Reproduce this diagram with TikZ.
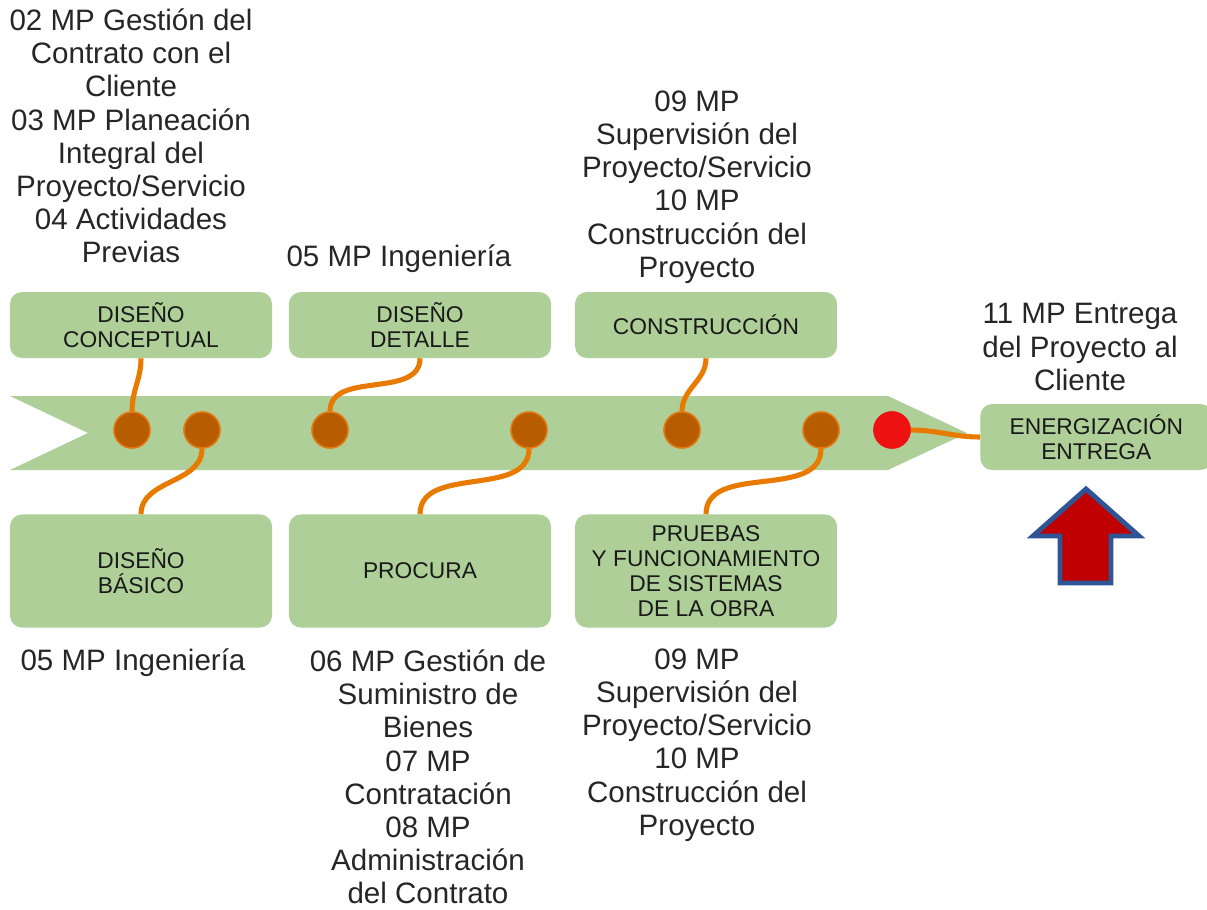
\documentclass[tikz,border=0pt]{standalone}
\usepackage{fontspec}
\setmainfont{Liberation Sans}
\definecolor{leaf}{RGB}{174,208,152}
\definecolor{wire}{RGB}{232,122,0}
\definecolor{knot}{RGB}{184,92,0}
\definecolor{knotrim}{RGB}{228,122,20}
\definecolor{hot}{RGB}{238,17,17}
\definecolor{arrowred}{RGB}{192,0,0}
\definecolor{arrowblue}{RGB}{47,85,151}
\begin{document}
\begin{tikzpicture}[x=0.025cm,y=0.025cm,
    box/.style={fill=leaf,rounded corners=0.3cm,minimum width=6.55cm,align=center,
      font=\fontsize{16.2}{17.8}\selectfont,text=black!90},
    knob/.style={circle,fill=knot,draw=knotrim,line width=1pt,minimum size=0.9cm,inner sep=0pt},
    link/.style={draw=wire,line width=3.6pt},
    lbl/.style={align=center,inner sep=0pt,font=\fontsize{21}{23.6}\selectfont,text=black!85}]
    \useasboundingbox (0,0) rectangle (1207,-909);
    % band
    \fill[leaf] (10,-396) -- (888,-396) -- (967,-433) -- (888,-470) -- (10,-470) -- (88,-433) -- cycle;
    % boxes
    \node[box,minimum height=1.65cm] (concept) at (141,-325) {DISEÑO\\CONCEPTUAL};
    \node[box,minimum height=1.65cm] (detail) at (420,-325) {DISEÑO\\DETALLE};
    \node[box,minimum height=1.65cm] (build) at (706,-325) {CONSTRUCCIÓN};
    \node[box,minimum height=2.825cm] (basic) at (141,-571) {DISEÑO\\BÁSICO};
    \node[box,minimum height=2.825cm] (buy) at (420,-571) {PROCURA};
    \node[box,minimum height=2.825cm] (test) at (706,-571) {PRUEBAS\\Y FUNCIONAMIENTO\\DE SISTEMAS\\DE LA OBRA};
    \node[box,minimum height=1.65cm,minimum width=5.8cm,anchor=west] (deliver) at (980,-437) {ENERGIZACIÓN\\ENTREGA};
    % knobs on the band
    \node[knob] (k1) at (132,-430) {};
    \node[knob] (k2) at (202,-430) {};
    \node[knob] (k3) at (330,-430) {};
    \node[knob] (k4) at (529,-430) {};
    \node[knob] (k5) at (682,-430) {};
    \node[knob] (k6) at (821,-430) {};
    \node[knob,fill=hot,draw=hot] (k7) at (892,-430) {};
    % wires
    \path[link] (k1.north) to[out=90,in=-90] (concept.south);
    \path[link] (k2.south) to[out=-90,in=90] (basic.north);
    \path[link] (k3.north) to[out=90,in=-90] (detail.south);
    \path[link] (k4.south) to[out=-90,in=90] (buy.north);
    \path[link] (k5.north) to[out=90,in=-90] (build.south);
    \path[link] (k6.south) to[out=-90,in=90] (test.north);
    \path[link] (k7.east) to[out=0,in=180] (deliver.west);
    % redraw knobs over the wires
    \node[knob] at (k1) {};
    \node[knob] at (k2) {};
    \node[knob] at (k3) {};
    \node[knob] at (k4) {};
    \node[knob] at (k5) {};
    \node[knob] at (k6) {};
    \node[knob,fill=hot,draw=hot] at (k7) {};
    % labels
    \node[lbl] (pre) at (131,-136) {02 MP Gestión del\\Contrato con el\\Cliente\\03 MP Planeación\\Integral del\\Proyecto/Servicio\\04 Actividades\\Previas};
    \node[lbl] (eng1) at (399,-259) {05 MP Ingeniería};
    \node[lbl] (sup1) at (697,-187) {09 MP\\Supervisión del\\Proyecto/Servicio\\10 MP\\Construcción del\\Proyecto};
    \node[lbl] (hand) at (1080,-347) {11 MP Entrega\\del Proyecto al\\Cliente};
    \node[lbl] (eng2) at (133,-663) {05 MP Ingeniería};
    \node[lbl] (supply) at (428,-777) {06 MP Gestión de\\Suministro de\\Bienes\\07 MP\\Contratación\\08 MP\\Administración\\del Contrato};
    \node[lbl] (sup2) at (697,-745) {09 MP\\Supervisión del\\Proyecto/Servicio\\10 MP\\Construcción del\\Proyecto};
    % arrow
    \filldraw[fill=arrowred,draw=arrowblue,line width=3.5pt]
      (1086,-489) -- (1139,-536) -- (1111,-536) -- (1111,-583) -- (1060,-583) -- (1060,-536) -- (1033,-536) -- cycle;
\end{tikzpicture}
\end{document}
